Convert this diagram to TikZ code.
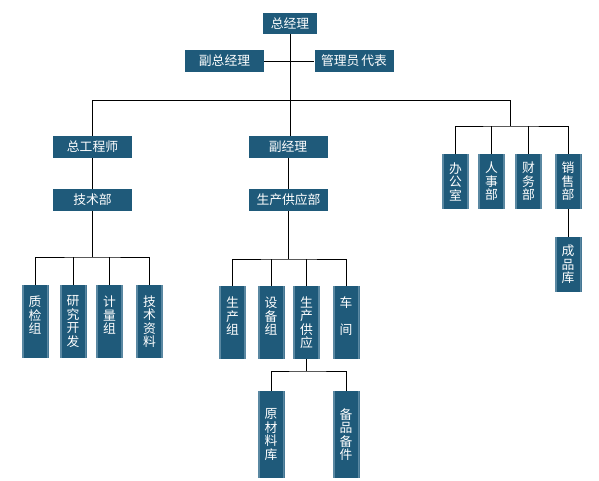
\documentclass[tikz,border=0pt]{standalone}
\usepackage{fontspec}
\newfontfamily\cjk{Noto Sans CJK SC}
\definecolor{boxc}{HTML}{1F5A7A}
\definecolor{edgec}{HTML}{5A88A2}
\begin{document}
\begin{tikzpicture}[x=1pt,y=-1pt,
  base/.style={fill=boxc,text=white,inner sep=0pt,font=\cjk\fontsize{12.8}{13.5}\selectfont},
  hbox/.style={base,minimum width=79pt,minimum height=22pt},
  vbox/.style={base,minimum width=27pt,align=center,
    path picture={
      \fill[edgec] (path picture bounding box.south west) rectangle ([xshift=2pt]path picture bounding box.north west);
      \fill[edgec] (path picture bounding box.south east) rectangle ([xshift=-2pt]path picture bounding box.north east);}},
  link/.style={draw=black,line width=1pt}]
\useasboundingbox (0,0) rectangle (599,480);
% top
\node[hbox,minimum width=54pt,minimum height=21pt] (gm) at (290,23.5) {总经理};
\node[hbox] (fzjl) at (224.5,61) {副总经理};
\node[hbox] (glydb) at (354,61) {管理员\hspace{2pt}代表};
% second level
\node[hbox] (zgcs) at (92.5,147) {总工程师};
\node[hbox] (jsb) at (92.5,200) {技术部};
\node[hbox] (fjl) at (288,147) {副经理};
\node[hbox] (scgyb) at (288.5,200) {生产供应部};
% left bottom
\node[vbox,minimum height=73pt] (zjz) at (35,321.5) {质\\检\\组\\\mbox{}};
\node[vbox,minimum height=73pt] (yjkf) at (73,321.5) {研\\究\\开\\发};
\node[vbox,minimum height=73pt] (jlz) at (109.5,321.5) {计\\量\\组\\\mbox{}};
\node[vbox,minimum height=73pt] (jszl) at (149.5,321.5) {技\\术\\资\\料};
% middle bottom
\node[vbox,minimum height=73pt] (scz) at (232.5,322.5) {生\\产\\组\\\mbox{}};
\node[vbox,minimum height=73pt] (sbz) at (271,322.5) {设\\备\\组\\\mbox{}};
\node[vbox,minimum height=73pt] (scgy) at (306.5,322.5) {生\\产\\供\\应};
\node[vbox,minimum height=73pt] (cj) at (346,322.5) {车\\\mbox{}\\间\\\mbox{}};
\node[vbox,minimum height=87pt] (yclk) at (271,434.5) {原\\材\\料\\库};
\node[vbox,minimum height=87pt] (bpbj) at (346,434.5) {备\\品\\备\\件};
% right
\node[vbox,minimum height=55pt] (bgs) at (455.5,181.5) {办\\公\\室};
\node[vbox,minimum height=55pt] (rsb) at (491.5,181.5) {人\\事\\部};
\node[vbox,minimum height=55pt] (cwb) at (528.5,181.5) {财\\务\\部};
\node[vbox,minimum height=55pt] (xsb) at (568,181.5) {销\\售\\部};
\node[vbox,minimum height=55pt] (cpk) at (568,264.5) {成\\品\\库};
% junction coordinates
\coordinate (hl) at (92.5,100);
\coordinate (hr) at (510,100);
\coordinate (jl) at (92.5,257);
\coordinate (jm) at (288.5,259);
\coordinate (js) at (306.5,371);
\coordinate (jr) at (510,126);
% connectors
\draw[link] (gm.south) -- (gm.south |- fjl.north);
\draw[link] (fzjl.east) -- (glydb.west);
\draw[link] (hl) -- (hr);
\draw[link] (hl) -- (zgcs.north);
\draw[link] (hr) -- (jr);
\draw[link] (zgcs.south) -- (jsb.north);
\draw[link] (fjl.south -| scgyb.north) -- (scgyb.north);
\draw[link] (jsb.south) -- (jl);
\draw[link] (zjz.north) |- (jl) -| (jszl.north);
\draw[link] (yjkf.north) -- (yjkf.north |- jl);
\draw[link] (jlz.north) -- (jlz.north |- jl);
\draw[link] (scgyb.south) -- (jm);
\draw[link] (scz.north) |- (jm) -| (cj.north);
\draw[link] (sbz.north) -- (sbz.north |- jm);
\draw[link] (scgy.north) -- (scgy.north |- jm);
\draw[link] (scgy.south) -- (js);
\draw[link] (yclk.north) |- (js) -| (bpbj.north);
\draw[link] (bgs.north) |- (jr) -| (xsb.north);
\draw[link] (rsb.north) -- (rsb.north |- jr);
\draw[link] (cwb.north) -- (cwb.north |- jr);
\draw[link] (xsb.south) -- (cpk.north);
\end{tikzpicture}
\end{document}
